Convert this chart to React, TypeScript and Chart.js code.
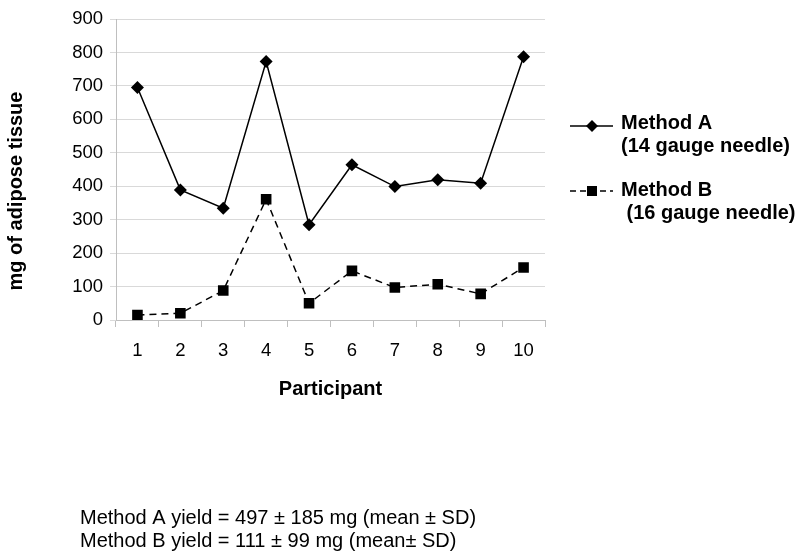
import React, { useEffect, useRef } from "react";
import { Chart, registerables } from "chart.js";

Chart.register(...registerables);

const participants = ["1", "2", "3", "4", "5", "6", "7", "8", "9", "10"];
const methodA = [695, 389, 334, 773, 285, 464, 399, 419, 409, 787];
const methodB = [15, 20, 88, 361, 50, 147, 97, 107, 78, 157];
const yTicks = [0, 100, 200, 300, 400, 500, 600, 700, 800, 900];
const legendA = ["Method A", "(14 gauge needle)"];
const legendB = ["Method B", " (16 gauge needle)"];
const yTitle = "mg of adipose tissue";
const xTitle = "Participant";
const footer = [
  "Method A yield = 497 \u00b1 185 mg (mean \u00b1 SD)",
  "Method B yield = 111 \u00b1 99 mg (mean\u00b1 SD)",
];

const FONT = "'Liberation Sans', Arial, sans-serif";

const extrasPlugin = {
  id: "extras",
  afterDraw(chart: any) {
    const ctx = chart.ctx as CanvasRenderingContext2D;
    ctx.save();
    ctx.fillStyle = "#000";
    ctx.strokeStyle = "#000";

    // y title
    ctx.save();
    ctx.font = `bold 20px ${FONT}`;
    ctx.textAlign = "center";
    ctx.textBaseline = "alphabetic";
    ctx.translate(22, 191);
    ctx.rotate(-Math.PI / 2);
    ctx.fillText(yTitle, 0, 0);
    ctx.restore();

    // legend
    const drawEntry = (
      y: number,
      dash: number[],
      style: "diamond" | "square",
      lines: string[],
      baseY: number
    ) => {
      ctx.save();
      ctx.lineWidth = 1.5;
      ctx.setLineDash(dash);
      ctx.beginPath();
      ctx.moveTo(570, y);
      ctx.lineTo(613, y);
      ctx.stroke();
      ctx.setLineDash([]);
      ctx.beginPath();
      if (style === "diamond") {
        const r = 6;
        ctx.moveTo(592, y - r);
        ctx.lineTo(592 + r, y);
        ctx.lineTo(592, y + r);
        ctx.lineTo(592 - r, y);
        ctx.closePath();
      } else {
        ctx.rect(592 - 5, y - 5, 10, 10);
      }
      ctx.fill();
      ctx.restore();
      ctx.font = `bold 20px ${FONT}`;
      ctx.textAlign = "left";
      ctx.textBaseline = "alphabetic";
      lines.forEach((t, i) => ctx.fillText(t, 621, baseY + i * 23));
    };
    drawEntry(126, [], "diamond", legendA, 129);
    drawEntry(191, [6, 4], "square", legendB, 196);

    // footer
    ctx.font = `20px ${FONT}`;
    ctx.textAlign = "left";
    ctx.textBaseline = "alphabetic";
    footer.forEach((t, i) => ctx.fillText(t, 80, 524 + i * 23));
    ctx.restore();
  },
};

export default function App() {
  const ref = useRef<HTMLCanvasElement>(null);
  useEffect(() => {
    if (!ref.current) return;
    const chart = new Chart(ref.current, {
      type: "line",
      data: {
        labels: participants,
        datasets: [
          {
            label: legendA.join(" "),
            data: methodA,
            borderColor: "#000",
            backgroundColor: "#000",
            borderWidth: 1.5,
            pointStyle: "rectRot",
            pointRadius: 6.5,
            pointBackgroundColor: "#000",
            pointBorderColor: "#000",
            pointBorderWidth: 0,
            tension: 0,
          },
          {
            label: legendB.join(" "),
            data: methodB,
            borderColor: "#000",
            backgroundColor: "#000",
            borderWidth: 1.5,
            borderDash: [7, 5],
            pointStyle: "rect",
            pointRadius: 7.5,
            pointBackgroundColor: "#000",
            pointBorderColor: "#000",
            pointBorderWidth: 0,
            tension: 0,
          },
        ],
      },
      options: {
        responsive: false,
        animation: false,
        layout: { padding: { left: 0, right: 255, top: 19, bottom: 152 } },
        plugins: {
          legend: { display: false },
          tooltip: { enabled: false },
        },
        scales: {
          x: {
            type: "category",
            offset: true,
            afterFit: (s: any) => {
              s.height = 85;
            },
            grid: {
              offset: true,
              drawOnChartArea: false,
              drawTicks: true,
              tickLength: 7,
              color: "#bfbfbf",
              lineWidth: 1,
            },
            border: { display: true, color: "#bfbfbf", width: 1 },
            ticks: {
              color: "#000",
              font: { family: FONT, size: 18.5 },
              padding: 13,
              maxRotation: 0,
              autoSkip: false,
            },
            title: {
              display: true,
              text: xTitle,
              color: "#000",
              font: { family: FONT, size: 20, weight: "bold" },
              padding: { top: 0, bottom: 4 },
            },
          },
          y: {
            min: 0,
            max: 900,
            afterFit: (s: any) => {
              s.width = 116;
            },
            afterBuildTicks: (s: any) => {
              s.ticks = yTicks.map((v) => ({ value: v }));
            },
            grid: {
              color: "#d9d9d9",
              lineWidth: 1,
              drawTicks: true,
              tickLength: 6,
            },
            border: { display: true, color: "#bfbfbf", width: 1 },
            ticks: {
              color: "#000",
              font: { family: FONT, size: 18.5 },
              padding: 7,
              stepSize: 100,
            },
          },
        },
      },
      plugins: [extrasPlugin],
    });
    return () => chart.destroy();
  }, []);
  return (
    <div style={{ position: "fixed", left: 0, top: 0, width: 800, height: 557, background: "#fff" }}>
      <canvas ref={ref} width={800} height={557} />
    </div>
  );
}
